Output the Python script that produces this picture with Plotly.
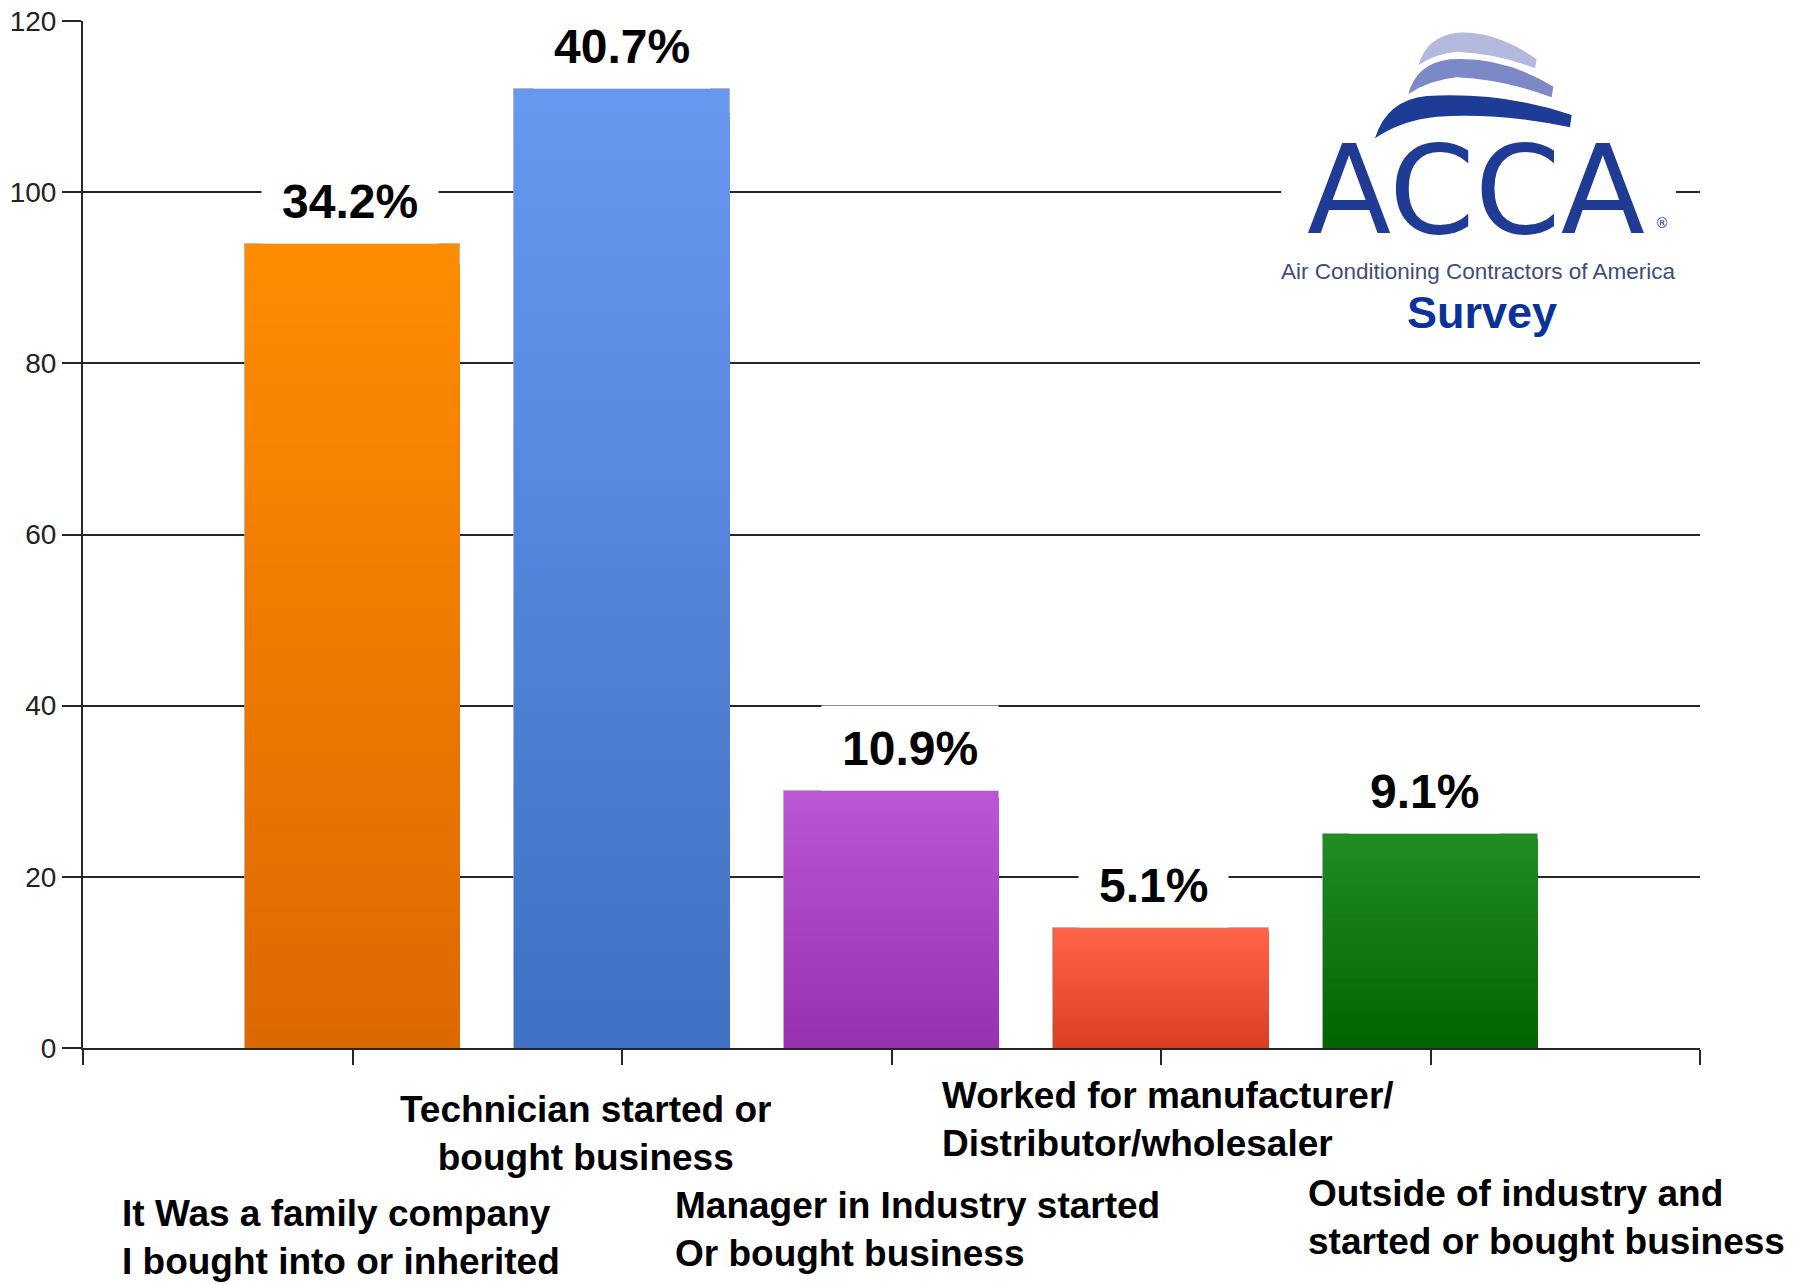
import plotly.graph_objects as go

# ---------------- data ----------------
categories = [
    "It Was a family company<br>I bought into or inherited",
    "Technician started or<br>bought business",
    "Manager in Industry started<br>Or bought business",
    "Worked for manufacturer/<br>Distributor/wholesaler",
    "Outside of industry and<br>started or bought business",
]
counts = [94, 112, 30, 14, 25]
percent_labels = ["34.2%", "40.7%", "10.9%", "5.1%", "9.1%"]
y_ticks = [0, 20, 40, 60, 80, 100, 120]

# ---------------- styling ----------------
bar_top_colors = ["#ff8c00", "#6797ee", "#bb56d4", "#ff6448", "#238c23"]
bar_bottom_colors = ["#dc6800", "#4171c7", "#9731b0", "#dc3e22", "#006400"]
label_xshift = [-3, 0, 18, -8, -6]          # px offsets of the % labels
# category label placement (px in the 1799x1284 canvas): x, y-centre, anchor
cat_label_pos = [
    (120, 1237, "left"),
    (585, 1133, "center"),
    (673, 1229, "left"),
    (940, 1119, "left"),
    (1306, 1217, "left"),
]

W, H = 1799, 1284
PL, PR, PT, PB = 83, 1700, 21, 1048   # plot area in px
GRID = "#262626"


def px(x):
    return (x - PL) / (PR - PL)


def py(y):
    return (PB - y) / (PB - PT)


def hex2rgb(h):
    h = h.lstrip("#")
    return tuple(int(h[i:i + 2], 16) for i in (0, 2, 4))


def mix(c1, c2, f):
    a, b = hex2rgb(c1), hex2rgb(c2)
    return "rgb(%d,%d,%d)" % tuple(round(a[i] + (b[i] - a[i]) * f) for i in range(3))


positions = list(range(1, len(categories) + 1))

fig = go.Figure()

# vertical gradient: overlay progressively shorter bars
N = 40
for k in range(N):
    frac_top = 1 - k / N
    f = frac_top - 0.5 / N
    fig.add_trace(go.Bar(
        x=positions,
        y=[v * frac_top for v in counts],
        width=0.8,
        marker=dict(
            color=[mix(bar_bottom_colors[i], bar_top_colors[i], f) for i in range(len(counts))],
            line=dict(width=1 if k == 0 else 0, color="rgba(170,170,170,0.6)"),
        ),
        hoverinfo="skip",
        showlegend=False,
    ))

annotations = []
# percentage labels with white boxes
for i, (xp, v, lab) in enumerate(zip(positions, counts, percent_labels)):
    annotations.append(dict(
        x=xp, y=v, xref="x", yref="y", text=lab, showarrow=False,
        xanchor="center", yanchor="middle", yshift=43, xshift=label_xshift[i],
        font=dict(family="Liberation Sans, Arial, sans-serif", size=48, color="black", weight="bold"),
        bgcolor="white", borderpad=20, height=44,
    ))

# category labels
for txt, (x, y, anc) in zip(categories, cat_label_pos):
    annotations.append(dict(
        x=px(x), y=py(y), xref="paper", yref="paper", text=txt, showarrow=False,
        xanchor=anc, yanchor="middle", align=anc,
        font=dict(family="Liberation Sans, Arial, sans-serif", size=37, color="black", weight="bold"),
    ))

# logo texts
annotations += [
    dict(x=px(1476), y=py(190), xref="paper", yref="paper", text="ACCA", showarrow=False,
         xanchor="center", yanchor="middle",
         font=dict(family="DejaVu Sans, sans-serif", size=123, color="#1f3b93")),
    dict(x=px(1662), y=py(223), xref="paper", yref="paper", text="®", showarrow=False,
         xanchor="center", yanchor="middle",
         font=dict(family="DejaVu Sans, sans-serif", size=14, color="#1f3b93")),
    dict(x=px(1478), y=py(271), xref="paper", yref="paper",
         text="Air Conditioning Contractors of America", showarrow=False,
         xanchor="center", yanchor="middle",
         font=dict(family="Liberation Sans, Arial, sans-serif", size=22.5, color="#3f4c7e")),
    dict(x=px(1482), y=py(313), xref="paper", yref="paper", text="Survey", showarrow=False,
         xanchor="center", yanchor="middle",
         font=dict(family="Liberation Sans, Arial, sans-serif", size=45, color="#0a3399", weight="bold")),
]


def P(zx, zy):
    # logo artwork coordinates (3x zoom space of region starting at 1270,20)
    return "%.5f,%.5f" % (px(1270 + zx / 3), py(20 + zy / 3))


def wave(pts):
    (a, b, c, d, e, f, g, h, i) = pts
    return ("M %s Q %s %s Q %s %s L %s Q %s %s Q %s %s Z" % (
        P(*a), P(*b), P(*c), P(*d), P(*e), P(*f), P(*g), P(*h), P(*i), P(*a)))


waves = [
    ("#b4b9de", [(445, 135), (470, 50), (560, 38), (680, 32), (800, 118), (795, 145),
                 (680, 100), (560, 95), (500, 100)]),
    ("#7d88c6", [(415, 222), (440, 130), (540, 118), (700, 108), (850, 200), (845, 232),
                 (700, 178), (560, 172), (480, 180)]),
    ("#1d3c96", [(315, 355), (350, 240), (470, 228), (700, 215), (905, 285), (900, 322),
                 (700, 278), (500, 290), (390, 302)]),
]

shapes = [dict(type="rect", xref="paper", yref="paper",
               x0=px(1281), x1=px(1676), y0=py(345), y1=py(28),
               fillcolor="white", line=dict(width=0), layer="above")]
for col, pts in waves:
    shapes.append(dict(type="path", xref="paper", yref="paper", path=wave(pts),
                       fillcolor=col, line=dict(width=0), layer="above"))

fig.update_layout(
    width=W, height=H,
    margin=dict(l=PL, r=W - PR, t=PT, b=H - PB, pad=0, autoexpand=False),
    paper_bgcolor="white", plot_bgcolor="white",
    barmode="overlay", bargap=0,
    annotations=annotations, shapes=shapes,
    xaxis=dict(range=[0, len(categories) + 1], tickvals=list(range(0, len(categories) + 2)),
               showticklabels=False, ticks="outside", ticklen=15, tickwidth=2, tickcolor=GRID,
               showline=True, linewidth=2, linecolor=GRID, showgrid=False, zeroline=False,
               fixedrange=True, automargin=False),
    yaxis=dict(range=[0, 120], tickvals=y_ticks, ticks="outside", ticklen=19, tickwidth=2,
               tickcolor=GRID, showline=True, linewidth=2, linecolor=GRID,
               showgrid=True, gridwidth=2, gridcolor=GRID, zeroline=False,
               tickfont=dict(family="Liberation Sans, Arial, sans-serif",
                             size=28, color="#222222"),
               fixedrange=True, automargin=False),
)

fig.write_html("out.html", post_script="document.body.style.margin='0';",
               config={"displayModeBar": False})
